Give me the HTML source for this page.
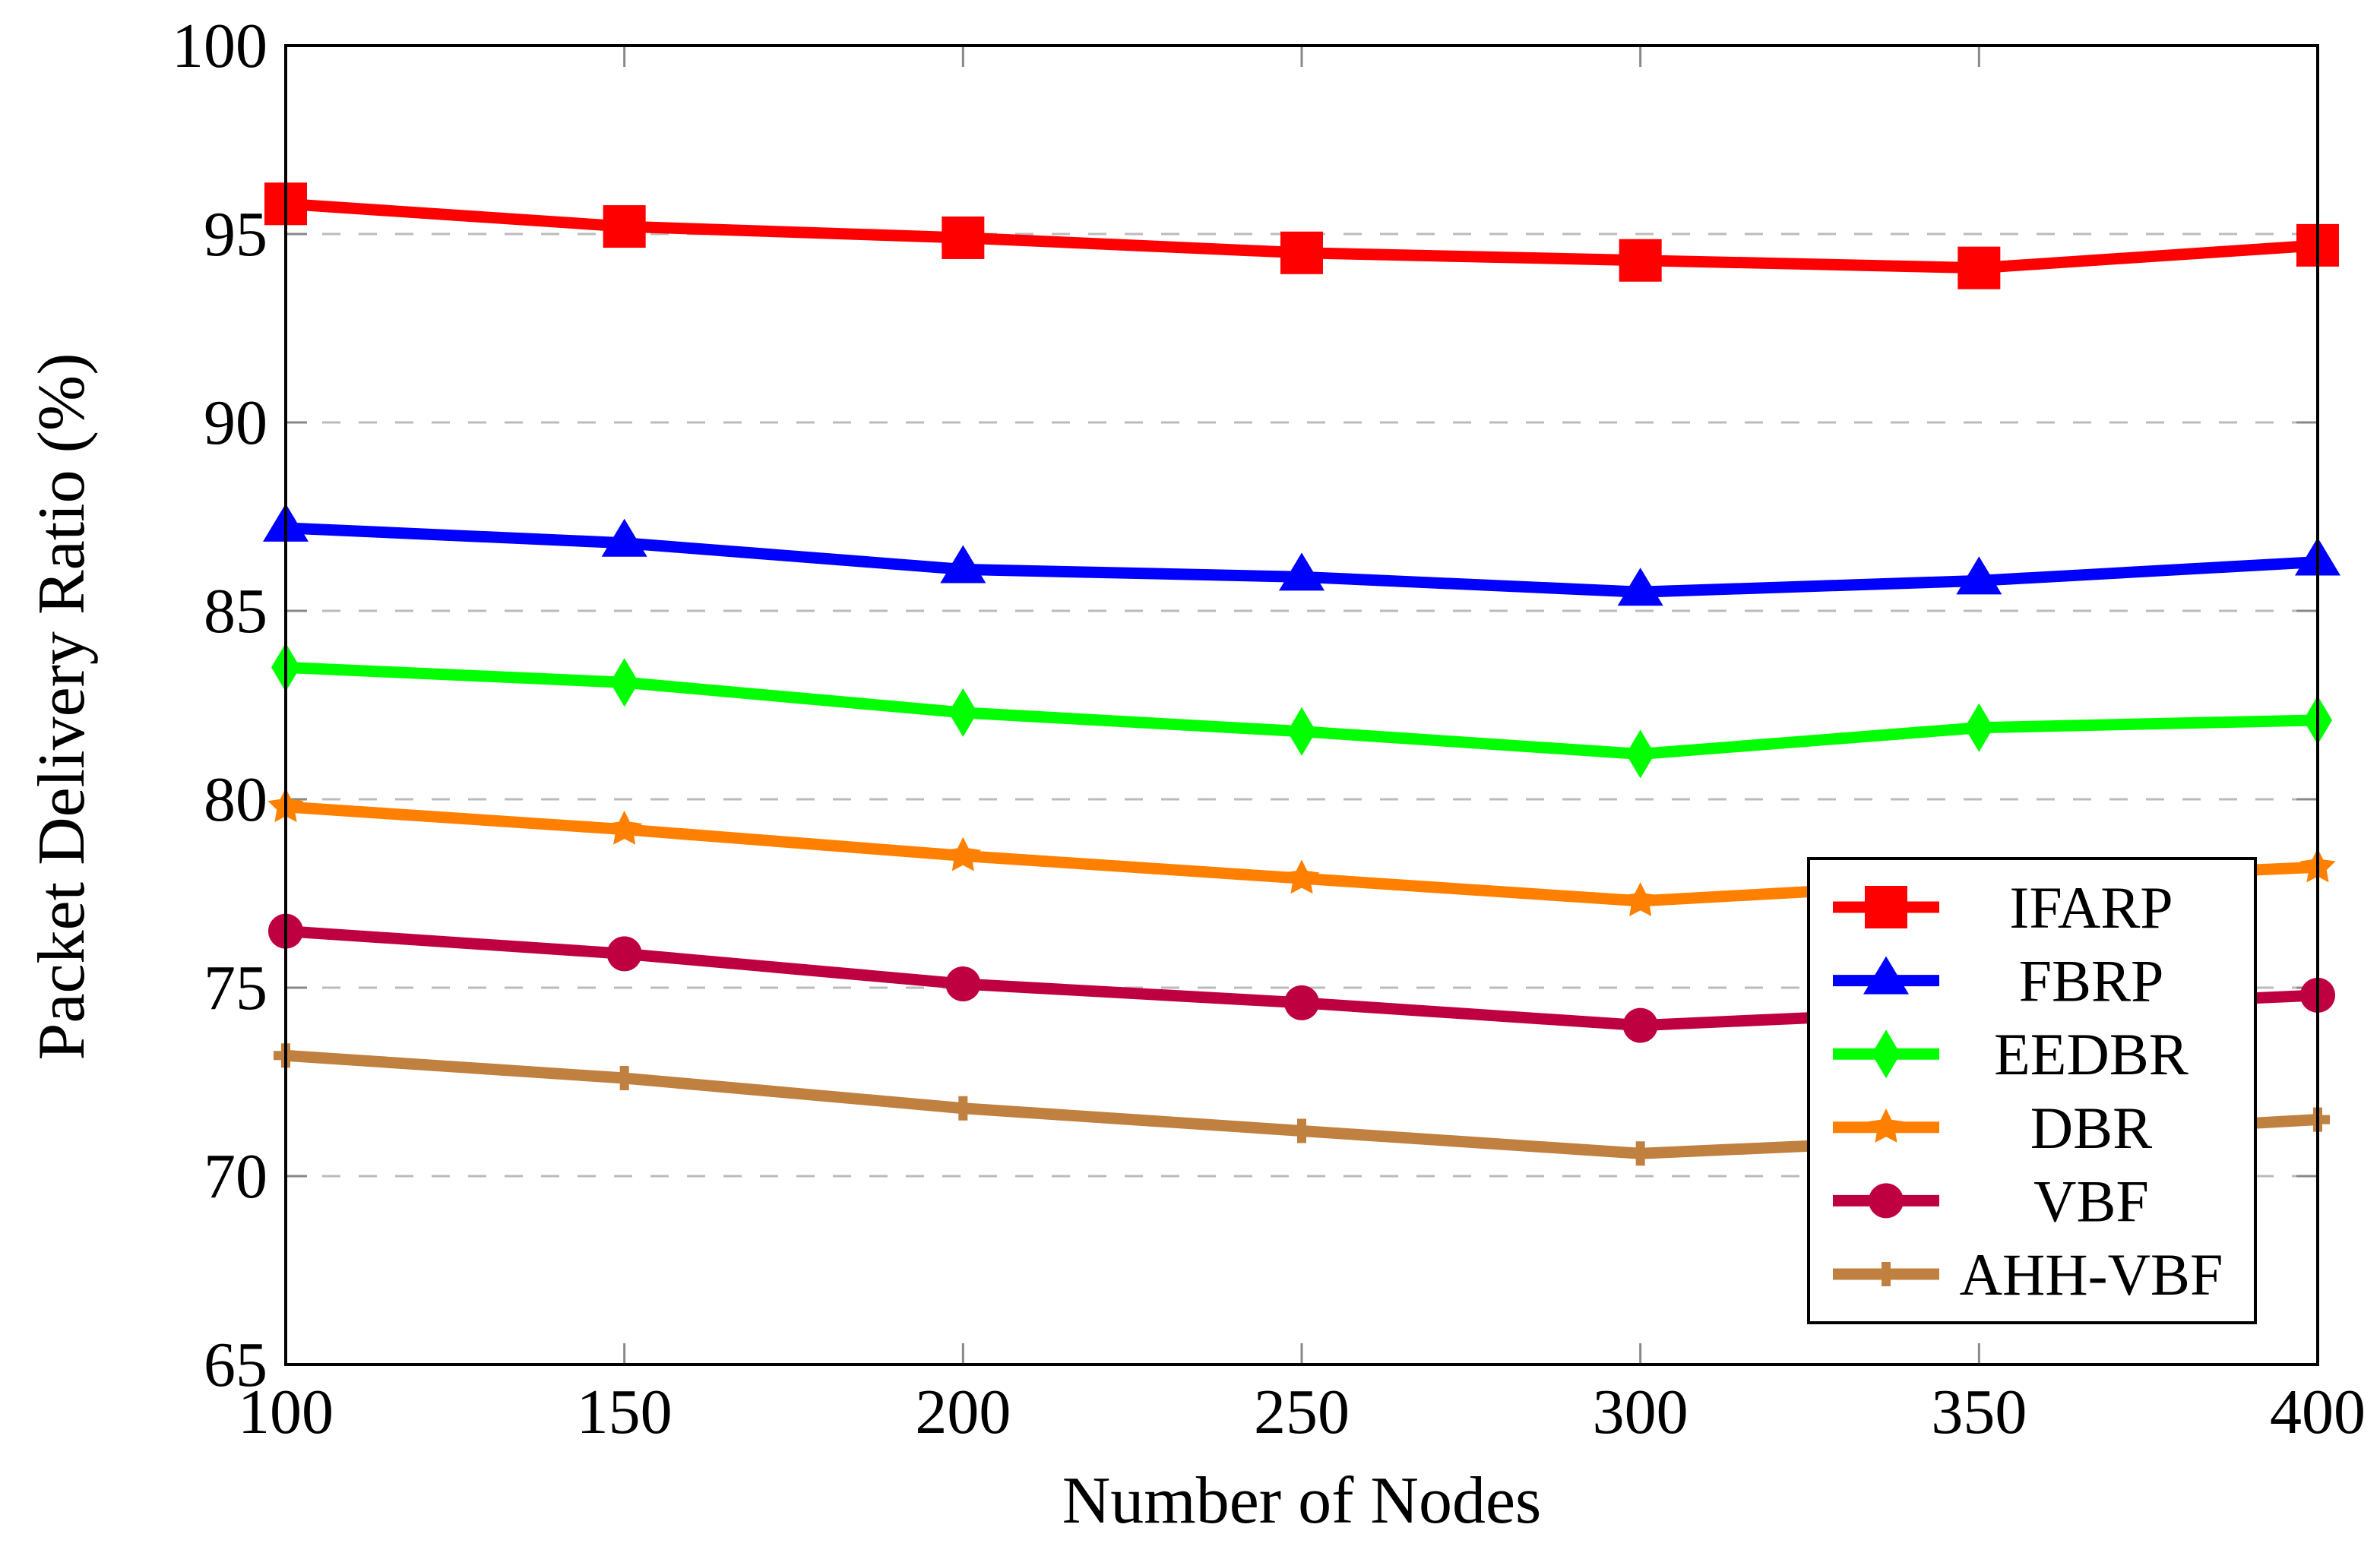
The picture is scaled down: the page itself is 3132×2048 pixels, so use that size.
<!DOCTYPE html>
<html><head><meta charset="utf-8"><style>html,body{margin:0;padding:0;background:#fff}svg{display:block}</style></head>
<body>
<svg id="chart" xmlns="http://www.w3.org/2000/svg" width="3132" height="2048" viewBox="0 0 3132 2048" font-family="'Liberation Serif', serif">
<g id="grid"></g>
<g id="series"></g>
<rect x="376" y="60" width="2674" height="1736" fill="none" stroke="#000" stroke-width="4"/>
<g id="ticks" font-size="84" fill="#000"></g>
<text x="1713" y="2004" font-size="88" text-anchor="middle">Number of Nodes</text>
<text x="0" y="0" font-size="88" text-anchor="middle" transform="translate(110,930) rotate(-90)">Packet Delivery Ratio (%)</text>
<g id="legend"></g>
</svg>
<script>
const categories = [100,150,200,250,300,350,400];
const yTicks = [65,70,75,80,85,90,95,100];
const seriesNames = ["IFARP","FBRP","EEDBR","DBR","VBF","AHH-VBF"];
const ifarp = [95.8,95.2,94.9,94.5,94.3,94.1,94.7];
const fbrp = [87.2,86.8,86.1,85.9,85.5,85.8,86.3];
const eedbr = [83.5,83.1,82.3,81.8,81.2,81.9,82.1];
const dbr = [79.8,79.2,78.5,77.9,77.3,77.8,78.2];
const vbf = [76.5,75.9,75.1,74.6,74.0,74.4,74.8];
const ahhvbf = [73.2,72.6,71.8,71.2,70.6,71.0,71.5];

const NS="http://www.w3.org/2000/svg";
const L=376,R=3050,T=60,B=1796;
const xS=v=>L+(v-100)/(400-100)*(R-L);
const yS=v=>B-(v-65)/(100-65)*(B-T);
function mk(tag,attrs,parent){const e=document.createElementNS(NS,tag);for(const k in attrs)e.setAttribute(k,attrs[k]);parent.appendChild(e);return e;}
const grid=document.getElementById('grid'),ticks=document.getElementById('ticks'),sg=document.getElementById('series'),lg=document.getElementById('legend');
yTicks.forEach(t=>{
  const y=yS(t);
  if(t>65&&t<100){const g=mk('line',{x1:L,x2:R,y1:y,y2:y,stroke:'#bbb','stroke-width':3,'stroke-dasharray':'24 24'},grid);
  
  }
  const tk=mk('line',{x1:L,x2:L+28,y1:y,y2:y,stroke:'#888','stroke-width':3},grid);
  
  
  const tk2=mk('line',{x1:R-28,x2:R,y1:y,y2:y,stroke:'#888','stroke-width':3},grid);
  
  
  const tx=mk('text',{x:352,y:y+28,'text-anchor':'end'},ticks);tx.textContent=t;
  
  
});
categories.forEach(c=>{
  const x=xS(c);
  const tk=mk('line',{x1:x,x2:x,y1:B-28,y2:B,stroke:'#888','stroke-width':3},grid);
  
  
  const tk2=mk('line',{x1:x,x2:x,y1:T,y2:T+28,stroke:'#888','stroke-width':3},grid);
  
  
  const tx=mk('text',{x:x,y:1886,'text-anchor':'middle'},ticks);tx.textContent=c;
  
  
});
const colors=['#ff0000','#0000ff','#00ff00','#ff8000','#bf0040','#bf8040'];
const kinds=['square','triangle','diamond','star','circle','plus'];
const data=[ifarp,fbrp,eedbr,dbr,vbf,ahhvbf];
function marker(kind,x,y,c,parent){
  let e;
  if(kind==='square')e=mk('rect',{x:x-28,y:y-28,width:56,height:56,fill:c},parent);
  else if(kind==='triangle')e=mk('polygon',{points:`${x},${y-32} ${x+30},${y+18} ${x-30},${y+18}`,fill:c},parent);
  else if(kind==='diamond')e=mk('polygon',{points:`${x},${y-32} ${x+19},${y} ${x},${y+32} ${x-19},${y}`,fill:c},parent);
  else if(kind==='circle')e=mk('circle',{cx:x,cy:y,r:23,fill:c},parent);
  else if(kind==='star'){let p=[];for(let i=0;i<10;i++){const a=-Math.PI/2+i*Math.PI/5,r=i%2?9:18;p.push((x+r*Math.cos(a))+','+(y+r*Math.sin(a)));}e=mk('polygon',{points:p.join(' '),fill:c,stroke:c,'stroke-width':6},parent);}
  else e=mk('path',{d:`M${x-16},${y}H${x+16}M${x},${y-16}V${y+16}`,stroke:c,'stroke-width':12},parent);
  return e;
}
data.forEach((vals,si)=>{
  const g=mk('g',{},sg);
  
  
  const pts=vals.map((v,i)=>xS(categories[i])+','+yS(v)).join(' ');
  const pl=mk('polyline',{points:pts,fill:'none',stroke:colors[si],'stroke-width':15,'stroke-linejoin':'round'},g);
  
  
  vals.forEach((v,i)=>{const m=marker(kinds[si],xS(categories[i]),yS(v),colors[si],g);
    
    });
});
const box=mk('rect',{x:2380,y:1130,width:588,height:611,fill:'#fff',stroke:'#000','stroke-width':4},lg);


seriesNames.forEach((n,i)=>{
  const y=1194+i*96.6;
  const g=mk('g',{},lg);
  
  
  mk('line',{x1:2412,x2:2552,y1:y,y2:y,stroke:colors[i],'stroke-width':15},g);
  marker(kinds[i],2482,y,colors[i],g);
  const t=mk('text',{x:2752,y:y+27,'font-size':78,'text-anchor':'middle'},g);t.textContent=n;
});
</script>
</body></html>
